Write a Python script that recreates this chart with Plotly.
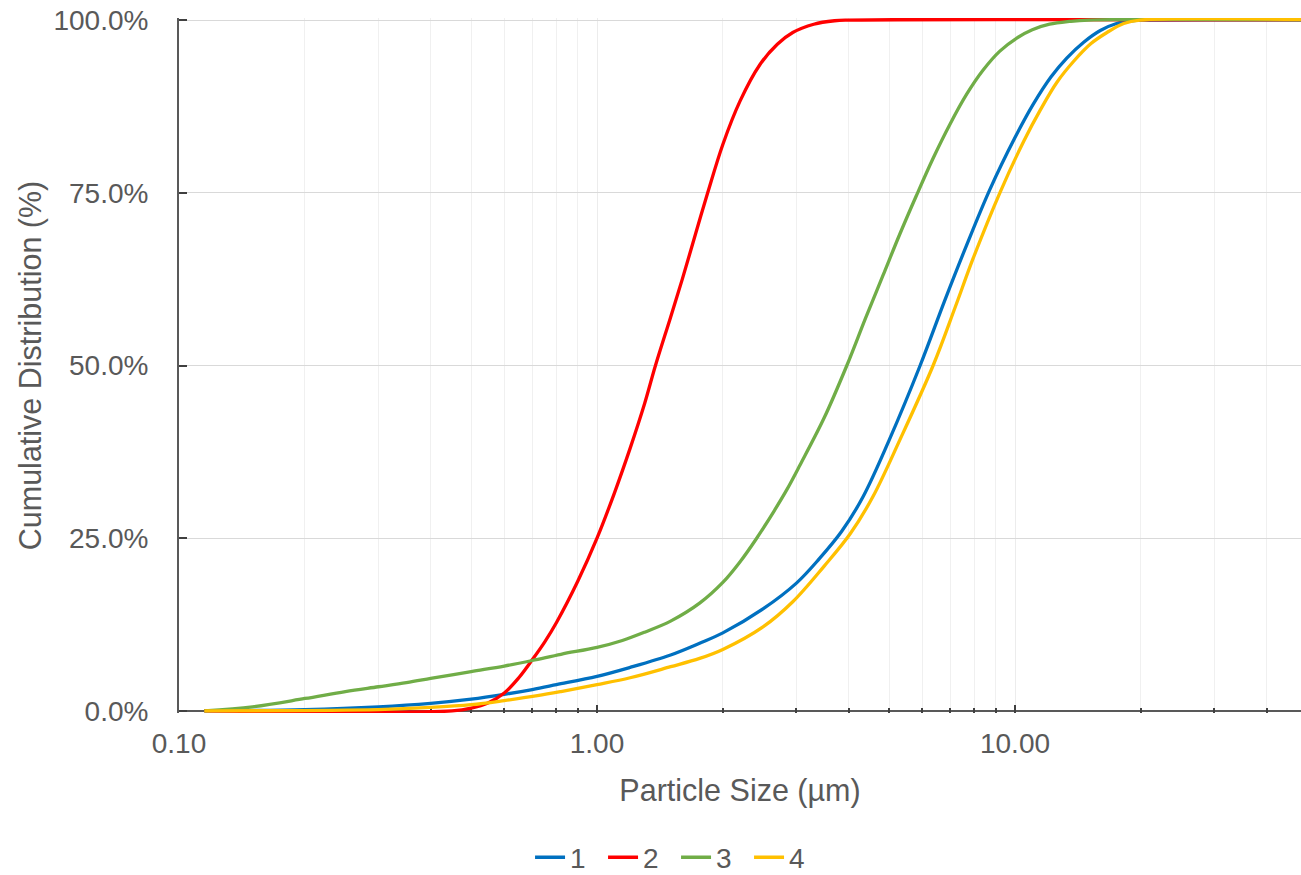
import plotly.graph_objects as go

# ---- data (particle size in µm, cumulative %) ----
size_1 = [0.115, 0.2, 0.3, 0.4, 0.5, 0.6, 0.7, 0.8, 1.0, 1.2, 1.5, 1.76, 2.0, 2.5, 3.0, 3.4, 3.85, 4.33, 5.0, 5.93, 6.8, 7.67, 8.71, 10.0, 11.05, 12.2, 13.3, 14.6, 16.0, 17.5, 19.0, 20.5, 60.0]
pct_1 = [0.0, 0.2, 0.6, 1.1, 1.7, 2.4, 3.1, 3.8, 5.0, 6.3, 8.1, 9.8, 11.3, 14.8, 18.5, 22.0, 26.0, 31.0, 39.2, 50.0, 59.5, 67.5, 75.5, 83.0, 87.8, 91.8, 94.5, 96.8, 98.5, 99.5, 99.9, 100.0, 100.0]

size_2 = [0.115, 0.45, 0.5, 0.55, 0.6, 0.65, 0.7, 0.75, 0.8, 0.9, 1.0, 1.1, 1.2, 1.3, 1.38, 1.5, 1.6, 1.72, 1.84, 2.0, 2.2, 2.45, 2.7, 2.94, 3.3, 3.7, 4.0, 60.0]
pct_2 = [0.0, 0.0, 0.4, 1.2, 2.6, 4.8, 7.4, 10.0, 12.8, 18.8, 25.0, 31.5, 38.0, 44.5, 50.0, 57.0, 62.5, 69.0, 75.0, 82.0, 88.3, 93.5, 96.5, 98.2, 99.4, 99.9, 100.0, 100.0]

size_3 = [0.115, 0.15, 0.2, 0.25, 0.3, 0.35, 0.4, 0.5, 0.6, 0.7, 0.82, 1.0, 1.15, 1.3, 1.5, 1.76, 2.0, 2.2, 2.41, 2.65, 2.85, 3.06, 3.5, 3.96, 4.4, 4.83, 5.3, 5.8, 6.37, 7.0, 7.67, 8.4, 9.2, 10.1, 11.0, 12.1, 13.5, 15.0, 60.0]
pct_3 = [0.0, 0.6, 1.8, 2.8, 3.5, 4.1, 4.7, 5.7, 6.5, 7.3, 8.2, 9.2, 10.2, 11.4, 13.0, 15.6, 18.6, 21.6, 25.0, 28.9, 32.1, 35.6, 42.5, 50.0, 57.0, 63.0, 69.0, 74.5, 80.0, 85.0, 89.3, 92.8, 95.5, 97.4, 98.6, 99.4, 99.8, 100.0, 100.0]

size_4 = [0.115, 0.3, 0.4, 0.5, 0.6, 0.72, 0.82, 1.0, 1.2, 1.5, 1.76, 2.0, 2.5, 2.94, 3.5, 4.03, 4.57, 5.3, 6.37, 7.2, 7.94, 9.2, 10.5, 11.5, 12.6, 13.8, 15.2, 16.6, 18.2, 19.9, 60.0]
pct_4 = [0.0, 0.2, 0.5, 0.9, 1.5, 2.2, 2.8, 3.8, 4.8, 6.4, 7.6, 8.9, 12.2, 15.8, 21.0, 25.6, 31.0, 39.2, 50.0, 58.5, 65.5, 75.0, 82.5, 87.0, 91.0, 94.0, 96.6, 98.2, 99.5, 100.0, 100.0]

series_names = ["1", "2", "3", "4"]
series_colors = ["#0070C0", "#FF0000", "#70AD47", "#FFC000"]

x_tick_vals = [0.1, 1, 10]
x_tick_text = ["0.10", "1.00", "10.00"]
x_minor_vals = [m * d for d in (0.1, 1, 10) for m in range(2, 10)]
y_tick_vals = [0, 25, 50, 75, 100]
y_tick_text = ["0.0%", "25.0%", "50.0%", "75.0%", "100.0%"]

fig = go.Figure()
for name, color, xs, ys in zip(series_names, series_colors,
                               [size_1, size_2, size_3, size_4],
                               [pct_1, pct_2, pct_3, pct_4]):
    fig.add_trace(go.Scatter(x=xs, y=ys, name=name, mode="lines",
                             line=dict(color=color, width=3.3, shape="spline", smoothing=1.0)))

FONT = "Liberation Sans, Arial, sans-serif"
GRAY = "#595959"
x_right = -1 + (1301 - 179) / 418.0

fig.update_layout(
    width=1301, height=883,
    margin=dict(l=179, r=0, t=18, b=168),
    paper_bgcolor="white", plot_bgcolor="white",
    font=dict(family=FONT, size=28, color=GRAY),
    showlegend=True,
    legend=dict(orientation="h", x=0.443, xanchor="center", y=-0.208, yanchor="middle",
                font=dict(size=28, color=GRAY), itemwidth=30, tracegroupgap=0,
                entrywidth=28, entrywidthmode="pixels"),
)
fig.update_xaxes(
    type="log", range=[-1, x_right], automargin=False,
    tickvals=x_tick_vals, ticktext=x_tick_text,
    ticks="inside", ticklen=8, tickwidth=2, tickcolor="#404040",
    showline=False, showgrid=True, gridcolor="#ececec", gridwidth=1,
    minor=dict(tickmode="array", tickvals=x_minor_vals, ticks="inside", ticklen=5,
               tickwidth=2, tickcolor="#404040", showgrid=True, gridcolor="#f0f0f0", gridwidth=1),
    ticklabelstandoff=11, ticklabeloverflow="allow",
    tickfont=dict(size=28, color=GRAY),
    title=dict(text="Particle Size (µm)", font=dict(size=30.5, color=GRAY), standoff=21),
    layer="below traces",
    zeroline=False,
)
fig.update_yaxes(
    range=[-0.3, 100.3], automargin=False,
    tickvals=y_tick_vals, ticktext=y_tick_text,
    ticks="inside", ticklen=8, tickwidth=2, tickcolor="#404040",
    showline=True, linecolor="#595959", linewidth=2,
    showgrid=True, gridcolor="#d9d9d9", gridwidth=1,
    zeroline=True, zerolinecolor="#595959", zerolinewidth=2,
    ticklabelstandoff=23, ticklabeloverflow="allow",
    tickfont=dict(size=28, color=GRAY),
    title=dict(text="Cumulative Distribution (%)", font=dict(size=30.5, color=GRAY), standoff=3),
    layer="below traces",
)

fig.write_html("out.html", config={"displayModeBar": False},
               post_script="document.body.style.margin='0px';")
